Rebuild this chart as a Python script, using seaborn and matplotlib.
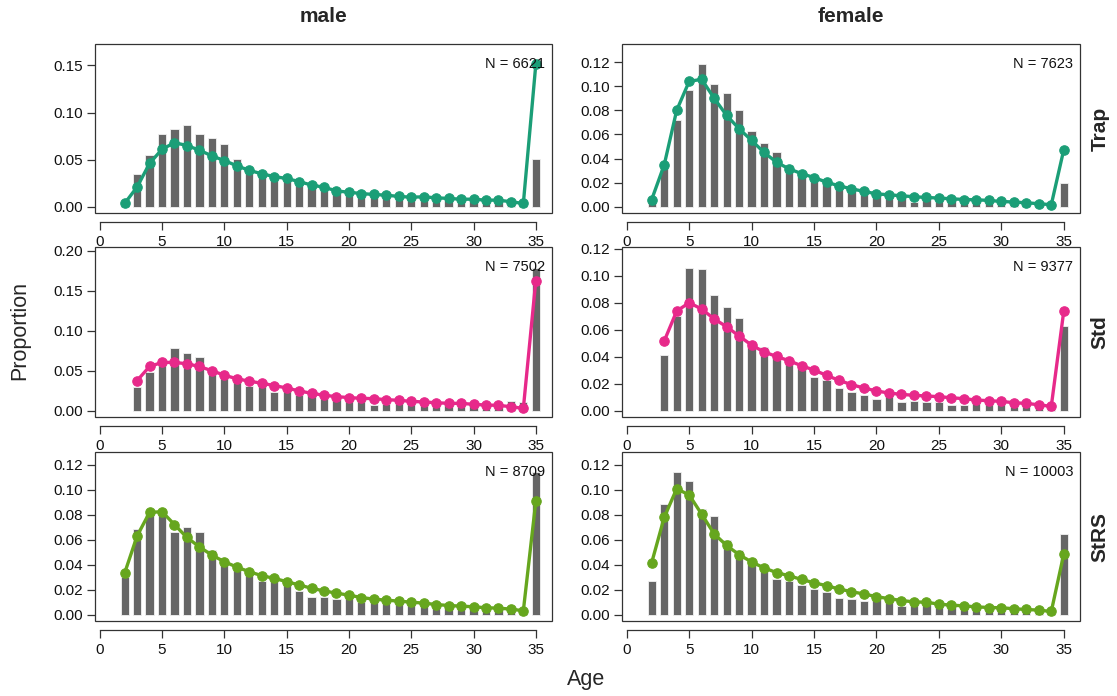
import numpy as np
import pandas as pd
import matplotlib
matplotlib.use("Agg")
import matplotlib.pyplot as plt
from matplotlib.patches import Rectangle
from matplotlib.ticker import MultipleLocator
import seaborn as sns

# ---- data -------------------------------------------------------------
sexes = ["male", "female"]
methods = ["Trap", "Std", "StRS"]
sample_sizes = {
    ("Trap", "male"): 6621, ("Trap", "female"): 7623,
    ("Std", "male"): 7502, ("Std", "female"): 9377,
    ("StRS", "male"): 8709, ("StRS", "female"): 10003,
}

ages_from2 = list(range(2, 36))
ages_from3 = list(range(3, 36))

# observed age proportions (bars)
trap_male_obs = [0.002, 0.035, 0.055, 0.077, 0.083, 0.087, 0.077, 0.073, 0.067, 0.051,
                 0.037, 0.034, 0.031, 0.029, 0.026, 0.023, 0.019, 0.016, 0.015, 0.013,
                 0.012, 0.011, 0.010, 0.009, 0.009, 0.008, 0.008, 0.007, 0.007, 0.006,
                 0.006, 0.005, 0.003, 0.051]
trap_female_obs = [0.004, 0.033, 0.072, 0.097, 0.118, 0.102, 0.094, 0.080, 0.063, 0.053,
                   0.045, 0.035, 0.028, 0.024, 0.020, 0.017, 0.015, 0.012, 0.010, 0.009,
                   0.008, 0.004, 0.007, 0.006, 0.006, 0.005, 0.005, 0.003, 0.004, 0.003,
                   0.003, 0.002, 0.001, 0.020]
std_male_obs = [0.030, 0.048, 0.058, 0.079, 0.072, 0.067, 0.048, 0.042, 0.037, 0.031,
                0.032, 0.024, 0.026, 0.020, 0.020, 0.0155, 0.016, 0.015, 0.013, 0.007,
                0.008, 0.012, 0.011, 0.010, 0.009, 0.008, 0.008, 0.007, 0.006, 0.006,
                0.012, 0.0105, 0.179]
std_female_obs = [0.041, 0.070, 0.106, 0.105, 0.086, 0.077, 0.069, 0.047, 0.047, 0.041,
                  0.036, 0.034, 0.025, 0.023, 0.017, 0.014, 0.012, 0.009, 0.012, 0.0064,
                  0.0069, 0.0064, 0.0062, 0.0042, 0.004, 0.0054, 0.0055, 0.006, 0.005,
                  0.005, 0.004, 0.001, 0.063]
strs_male_obs = [0.030, 0.069, 0.080, 0.082, 0.066, 0.070, 0.066, 0.052, 0.041, 0.037,
                 0.033, 0.027, 0.028, 0.025, 0.019, 0.014, 0.0146, 0.013, 0.015, 0.0106,
                 0.011, 0.0093, 0.010, 0.009, 0.008, 0.007, 0.007, 0.006, 0.006, 0.005,
                 0.005, 0.004, 0.002, 0.114]
strs_female_obs = [0.027, 0.089, 0.114, 0.107, 0.085, 0.079, 0.0595, 0.052, 0.042, 0.037,
                   0.029, 0.027, 0.024, 0.021, 0.018, 0.0137, 0.0127, 0.011, 0.014, 0.012,
                   0.007, 0.009, 0.009, 0.008, 0.007, 0.006, 0.006, 0.005, 0.005, 0.004,
                   0.004, 0.003, 0.002, 0.065]

# fitted age proportions (lines)
trap_male_fit = [0.0035, 0.021, 0.046, 0.061, 0.068, 0.065, 0.060, 0.054, 0.049, 0.0435,
                 0.0386, 0.035, 0.032, 0.030, 0.0267, 0.023, 0.0207, 0.0168, 0.0154, 0.014,
                 0.013, 0.0123, 0.0109, 0.0102, 0.0105, 0.0095, 0.0088, 0.008, 0.008, 0.007,
                 0.007, 0.0053, 0.0035, 0.151]
trap_female_fit = [0.006, 0.0347, 0.080, 0.104, 0.1057, 0.090, 0.0757, 0.0647, 0.055, 0.045,
                   0.0369, 0.0314, 0.0275, 0.0242, 0.0204, 0.0173, 0.0149, 0.0127, 0.0107,
                   0.0099, 0.0091, 0.0083, 0.0077, 0.0072, 0.0066, 0.006, 0.0058, 0.0052,
                   0.0044, 0.0039, 0.0033, 0.0025, 0.0017, 0.0473]
std_male_fit = [0.0377, 0.0553, 0.0604, 0.0604, 0.0587, 0.0553, 0.050, 0.0444, 0.040, 0.0369,
                0.0344, 0.0314, 0.0285, 0.0247, 0.0218, 0.0193, 0.0176, 0.0164, 0.0155,
                0.0151, 0.0138, 0.013, 0.0117, 0.0109, 0.010, 0.0092, 0.0092, 0.008, 0.0071,
                0.0067, 0.005, 0.0029, 0.1627]
std_female_fit = [0.0516, 0.0738, 0.080, 0.0753, 0.068, 0.0622, 0.0553, 0.0486, 0.0435,
                  0.0402, 0.037, 0.0333, 0.0301, 0.0262, 0.0225, 0.0193, 0.0168, 0.0146,
                  0.0131, 0.0121, 0.0114, 0.0109, 0.0104, 0.0096, 0.0089, 0.0079, 0.0074,
                  0.0069, 0.0059, 0.0054, 0.0044, 0.0032, 0.0738]
strs_male_fit = [0.0334, 0.0632, 0.082, 0.0826, 0.0722, 0.0619, 0.0544, 0.0478, 0.0425,
                 0.0382, 0.0345, 0.0313, 0.0292, 0.0265, 0.0239, 0.0212, 0.0191, 0.0173,
                 0.0157, 0.0138, 0.0125, 0.0117, 0.0109, 0.0101, 0.0093, 0.0082, 0.0074,
                 0.0069, 0.0064, 0.0056, 0.0053, 0.0045, 0.0032, 0.0908]
strs_female_fit = [0.0418, 0.078, 0.101, 0.096, 0.0806, 0.0648, 0.0555, 0.0481, 0.0423,
                   0.0375, 0.0338, 0.0312, 0.0283, 0.0256, 0.0233, 0.0206, 0.0185, 0.0166,
                   0.0145, 0.0129, 0.0114, 0.0103, 0.010, 0.0085, 0.0077, 0.0071, 0.0063,
                   0.0058, 0.0056, 0.0048, 0.0042, 0.0037, 0.0026, 0.0486]

panels = {
    ("Trap", "male"): (ages_from2, trap_male_obs, trap_male_fit),
    ("Trap", "female"): (ages_from2, trap_female_obs, trap_female_fit),
    ("Std", "male"): (ages_from3, std_male_obs, std_male_fit),
    ("Std", "female"): (ages_from3, std_female_obs, std_female_fit),
    ("StRS", "male"): (ages_from2, strs_male_obs, strs_male_fit),
    ("StRS", "female"): (ages_from2, strs_female_obs, strs_female_fit),
}

line_colors = {"Trap": "#1B9E77", "Std": "#E7298A", "StRS": "#66A61E"}
y_steps = {
    ("Trap", "male"): 0.05, ("Trap", "female"): 0.02,
    ("Std", "male"): 0.05, ("Std", "female"): 0.02,
    ("StRS", "male"): 0.02, ("StRS", "female"): 0.02,
}

# ---- styling ----------------------------------------------------------
sns.set_style("ticks")
plt.rcParams["font.family"] = ["Liberation Sans", "DejaVu Sans"]
AX_COLOR = "#333333"

W, H = 1117, 696
fig = plt.figure(figsize=(W / 100, H / 100), dpi=100)

col_x = {"male": (95, 552), "female": (622, 1080)}
row_y = {"Trap": (44, 213), "Std": (247, 417), "StRS": (452, 621)}

for method in methods:
    for sex in sexes:
        x0, x1 = col_x[sex]
        y0, y1 = row_y[method]
        ax = fig.add_axes([x0 / W, 1 - y1 / H, (x1 - x0) / W, (y1 - y0) / H])
        ages, obs, fit = panels[(method, sex)]
        df = pd.DataFrame({"Age": ages, "obs": obs, "fit": fit})

        sns.barplot(data=df, x="Age", y="obs", native_scale=True, color="#666666",
                    saturation=1, width=0.66, edgecolor="#f2f2f2", linewidth=0.6,
                    ax=ax, zorder=2)
        sns.lineplot(data=df, x="Age", y="fit", color=line_colors[method],
                     linewidth=2.4, marker="o", markersize=6.8,
                     markeredgecolor=line_colors[method], markeredgewidth=0.8,
                     ax=ax, zorder=3)

        top = 1.1 * max(max(obs), max(fit))
        ax.set_ylim(-0.04 * top, 1.04 * top)
        ax.set_xlim(-0.38, 36.3)
        ax.set_xlabel("")
        ax.set_ylabel("")

        ax.xaxis.set_major_locator(MultipleLocator(5))
        ax.yaxis.set_major_locator(MultipleLocator(y_steps[(method, sex)]))
        ax.yaxis.set_major_formatter(plt.FuncFormatter(lambda v, p: f"{v:.2f}"))

        for side in ("top", "right"):
            ax.spines[side].set_visible(False)
        ax.spines["left"].set_visible(False)
        ax.spines["bottom"].set_position(("outward", 6.5))
        ax.spines["bottom"].set_bounds(0, 35)
        ax.spines["bottom"].set_color(AX_COLOR)
        ax.spines["bottom"].set_linewidth(0.9)
        ax.add_patch(Rectangle((0, 0), 1, 1, transform=ax.transAxes, fill=False,
                               edgecolor=AX_COLOR, linewidth=0.9, clip_on=False,
                               zorder=5))
        ax.tick_params(axis="both", length=5.5, width=0.9, color=AX_COLOR,
                       labelsize=11, labelcolor="#111111", pad=3)
        ax.tick_params(axis="x", pad=3.5)

        ax.text(0.985, 0.88, f"N = {sample_sizes[(method, sex)]}",
                transform=ax.transAxes, ha="right", va="center", fontsize=10.5,
                color="#111111", zorder=6)

        if method == "Trap":
            ax.text(0.5, 1.0 + 27 / (y1 - y0), sex, transform=ax.transAxes,
                    ha="center", va="center", fontsize=15, fontweight="bold")
        if sex == "female":
            ax.text(1.0 + 20 / (x1 - x0), 0.5, method, transform=ax.transAxes,
                    ha="center", va="center", rotation=90, fontsize=15,
                    fontweight="bold")

fig.text(20 / W, 1 - 330 / H, "Proportion", rotation=90, ha="center", va="center",
         fontsize=15.5)
fig.text(586 / W, 1 - 679 / H, "Age", ha="center", va="center", fontsize=15.5)

fig.savefig("out.png", dpi=100)
